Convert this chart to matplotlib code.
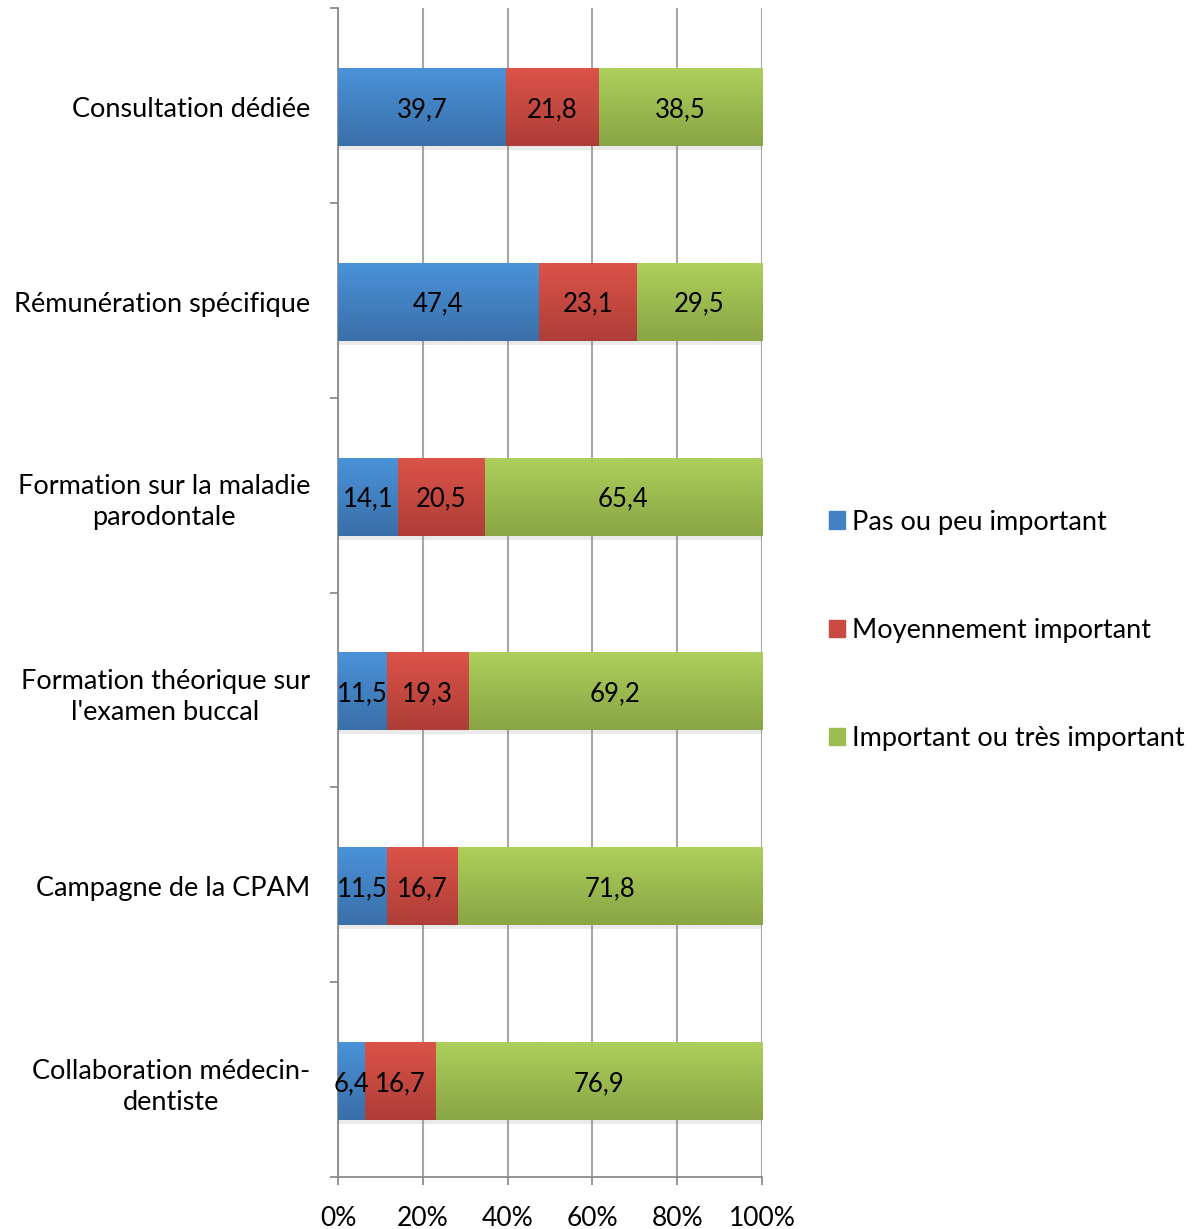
import numpy as np
import matplotlib
matplotlib.use("Agg")
import matplotlib.pyplot as plt
import matplotlib.colors as mc
from matplotlib.patches import Rectangle

plt.rcParams['font.family'] = ['Lato', 'DejaVu Sans']

categories = ["Consultation dédiée", "Rémunération spécifique",
              "Formation sur la maladie\nparodontale",
              "Formation théorique sur\nl'examen buccal",
              "Campagne de la CPAM", "Collaboration médecin-\ndentiste"]
series = ["Pas ou peu important", "Moyennement important",
          "Important ou très important"]
pas_peu = [39.7, 47.4, 14.1, 11.5, 11.5, 6.4]
moyen = [21.8, 23.1, 20.5, 19.3, 16.7, 16.7]
important = [38.5, 29.5, 65.4, 69.2, 71.8, 76.9]
xticks = [0, 20, 40, 60, 80, 100]

# couleurs (haut clair -> bas foncé, comme le dégradé Excel)
tops = ["#4a92d8", "#db5349", "#adcf5b"]
bots = ["#3a6fa9", "#ad3e37", "#89a545"]
mids = ["#4281c4", "#c94a42", "#9dbd50"]

fig = plt.figure(figsize=(12.01, 12.29), dpi=100)
ax = fig.add_axes([0.2814, 0.0423, 0.3531, 0.9512])

n = len(categories)
ypos = np.arange(n)[::-1].astype(float) - 0.008
h = 0.4
left = np.zeros(n)
for vals, c0, c1 in zip([pas_peu, moyen, important], tops, bots):
    t = np.linspace(0, 1, 64)[:, None, None]
    grad = (1 - t) * np.array(mc.to_rgb(c0)) + t * np.array(mc.to_rgb(c1))
    for y, l, v in zip(ypos, left, vals):
        # petite ombre sous la barre
        ax.add_patch(Rectangle((l + 0.3, y - h / 2 - 0.02), v, h, color="0.55",
                               alpha=0.18, lw=0, zorder=2))
        ax.imshow(grad, extent=[l, l + v, y - h / 2, y + h / 2], origin="upper",
                  aspect="auto", zorder=3, interpolation="bilinear")
        ax.text(l + v / 2, y, ("%.1f" % v).replace(".", ","), ha="center",
                va="center_baseline", fontsize=18.5, zorder=4)
    left = left + np.array(vals)

ax.set_xlim(0, 100)
ax.set_ylim(-0.5, n - 0.5)
ax.set_xticks(xticks)
ax.set_xticklabels(["%d%%" % x for x in xticks], fontsize=19)
ax.set_yticks(np.arange(n + 1) - 0.5)
ax.set_yticklabels([])
ax.set_yticks(ypos, minor=True)
ax.set_yticklabels(categories, minor=True, fontsize=19.5, ha="right",
                   multialignment="center", linespacing=1.3)
ax.tick_params(axis="y", which="minor", length=0, pad=20)
ax.tick_params(axis="y", which="major", length=6, color="#8c8c8c", width=1.3)
ax.tick_params(axis="x", length=6, color="#8c8c8c", width=1.3, pad=15)
ax.grid(axis="x", color="#a6a6a6", lw=1.5, zorder=1)
ax.set_axisbelow(True)
for s in ["top", "right"]:
    ax.spines[s].set_visible(False)
for s in ["left", "bottom"]:
    ax.spines[s].set_color("#8c8c8c")
    ax.spines[s].set_linewidth(1.3)

handles = [Rectangle((0, 0), 1, 1, color=c) for c in mids]
fig.legend(handles, series, loc="center left", bbox_to_anchor=(0.670, 0.487),
           frameon=False, fontsize=19.5, labelspacing=3.08, handlelength=0.6,
           handleheight=0.6, handletextpad=0.25)

fig.savefig("out.png", dpi=100)
